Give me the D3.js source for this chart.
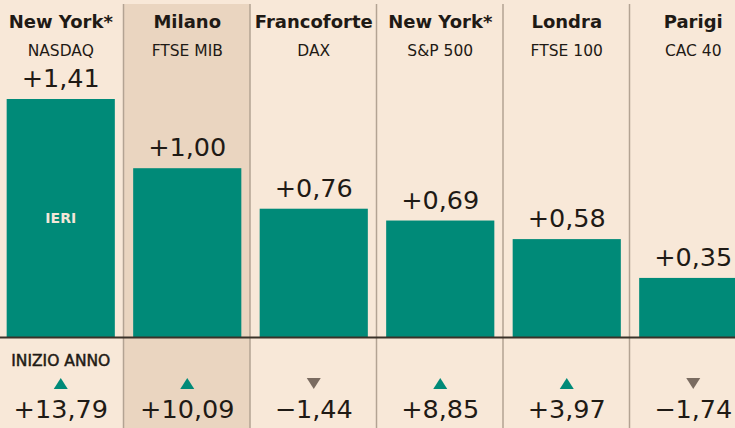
<!DOCTYPE html>
<html>
<head>
<meta charset="utf-8">
<script src="https://cdn.jsdelivr.net/npm/d3@7"></script>
<style>
  html, body { margin: 0; padding: 0; background: #f8e8d8; }
  svg { display: block; }
</style>
</head>
<body>
<svg id="canvas"></svg>
<script>
(() => {

    const WIDTH = 735;
    const HEIGHT = 428;
    const BASELINE = 337;
    const BG = "#f8e8d8";
    const HIGHLIGHT = "#ead5c0";
    const TEAL = "#008a78";
    const DOWN = "#7a6b60";
    const INK = "#1f1a15";
    const FONT = "'DejaVu Sans', sans-serif";

    const cities = ["New York*", "Milano", "Francoforte", "New York*", "Londra", "Parigi"];
    const indices = ["NASDAQ", "FTSE MIB", "DAX", "S&P 500", "FTSE 100", "CAC 40"];
    const today = [1.41, 1.00, 0.76, 0.69, 0.58, 0.35];
    const ytd = [13.79, 10.09, -1.44, 8.85, 3.97, -1.74];
    const highlighted = "Milano";

    const fmt = v => (v < 0 ? "\u2212" : "+") + Math.abs(v).toFixed(2).replace(".", ",");

    let svg = d3.select("#canvas")
        .attr("width", WIDTH)
        .attr("height", HEIGHT);

    svg.append("rect")
        .attr("width", WIDTH)
        .attr("height", HEIGHT)
        .attr("fill", BG);

    let x = d3.scaleBand()
        .domain(d3.range(cities.length))
        .range([-3, 756]);

    let y = d3.scaleLinear()
        .domain([0, 1.41])
        .range([BASELINE, 99]);

    let barWidth = x.bandwidth() * 0.855;
    let cx = i => x(i) + x.bandwidth() / 2 + 0.5;

    // highlighted column
    cities.forEach((c, i) => {
        if (c === highlighted) {
            svg.append("rect")
                .attr("x", x(i))
                .attr("y", 4)
                .attr("width", x.bandwidth())
                .attr("height", HEIGHT - 4)
                .attr("fill", HIGHLIGHT);
        }
    });

    // separators
    svg.selectAll("line.sep")
        .data(d3.range(1, cities.length))
        .join("line")
        .attr("class", "sep")
        .attr("x1", i => x(i))
        .attr("x2", i => x(i))
        .attr("y1", 4)
        .attr("y2", HEIGHT)
        .attr("stroke", "#b3a393")
        .attr("stroke-width", 1.5);

    // bars
    svg.selectAll("rect.bar")
        .data(today)
        .join("rect")
        .attr("class", "bar")
        .attr("x", (d, i) => cx(i) - barWidth / 2)
        .attr("y", d => y(d))
        .attr("width", barWidth)
        .attr("height", d => BASELINE - y(d))
        .attr("fill", TEAL);

    svg.append("line")
        .attr("x1", 0)
        .attr("x2", WIDTH)
        .attr("y1", BASELINE + 0.5)
        .attr("y2", BASELINE + 0.5)
        .attr("stroke", "#3a3229")
        .attr("stroke-width", 2);

    // titles
    svg.selectAll("text.city")
        .data(cities)
        .join("text")
        .attr("class", "city")
        .attr("x", (d, i) => cx(i))
        .attr("y", 28)
        .attr("text-anchor", "middle")
        .attr("font-family", FONT)
        .attr("font-weight", 700)
        .attr("font-size", 18)
        .attr("fill", INK)
        .text(d => d);

    svg.selectAll("text.index")
        .data(indices)
        .join("text")
        .attr("class", "index")
        .attr("x", (d, i) => cx(i))
        .attr("y", 56)
        .attr("text-anchor", "middle")
        .attr("font-family", FONT)
        .attr("font-size", 15.5)
        .attr("fill", INK)
        .text(d => d);

    // bar values
    svg.selectAll("text.val")
        .data(today)
        .join("text")
        .attr("class", "val")
        .attr("x", (d, i) => cx(i))
        .attr("y", d => y(d) - 12)
        .attr("text-anchor", "middle")
        .attr("font-family", FONT)
        .attr("font-size", 25.5)
        .attr("fill", INK)
        .text(fmt);

    svg.append("text")
        .attr("x", cx(0))
        .attr("y", 223)
        .attr("text-anchor", "middle")
        .attr("font-family", FONT)
        .attr("font-weight", 700)
        .attr("font-size", 14)
        .attr("fill", "#f3e6d8")
        .text("IERI");

    // year to date
    svg.append("text")
        .attr("x", cx(0))
        .attr("y", 366)
        .attr("text-anchor", "middle")
        .attr("font-family", FONT)
        .attr("font-size", 15.5)
        .attr("fill", INK)
        .attr("stroke", INK)
        .attr("stroke-width", 0.5)
        .text("INIZIO ANNO");

    svg.selectAll("path.arrow")
        .data(ytd)
        .join("path")
        .attr("class", "arrow")
        .attr("transform", (d, i) => `translate(${cx(i)},383.5)`)
        .attr("d", d => d >= 0 ? "M-7,5.5L7,5.5L0,-5.5Z" : "M-7,-5.5L7,-5.5L0,5.5Z")
        .attr("fill", d => d >= 0 ? TEAL : DOWN);

    svg.selectAll("text.ytd")
        .data(ytd)
        .join("text")
        .attr("class", "ytd")
        .attr("x", (d, i) => cx(i))
        .attr("y", 418)
        .attr("text-anchor", "middle")
        .attr("font-family", FONT)
        .attr("font-size", 25.5)
        .attr("fill", INK)
        .text(fmt);

})();
</script>
</body>
</html>
